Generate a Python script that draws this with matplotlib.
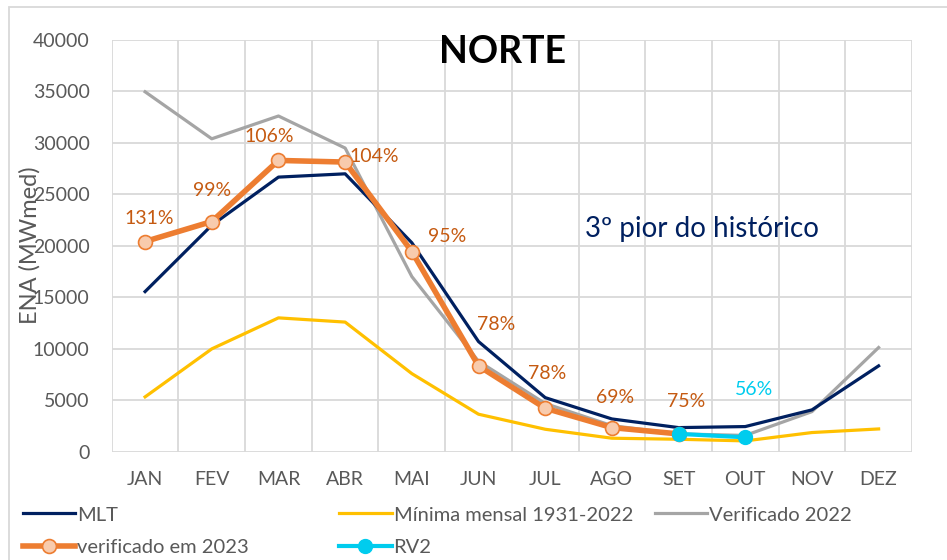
import matplotlib.pyplot as plt
from matplotlib.patches import Rectangle

plt.rcParams["font.family"] = ["Lato", "DejaVu Sans"]

meses = ["JAN", "FEV", "MAR", "ABR", "MAI", "JUN", "JUL", "AGO", "SET", "OUT", "NOV", "DEZ"]
mlt = [15560, 22000, 26670, 26990, 20300, 10710, 5270, 3200, 2360, 2460, 4080, 8350]
minima = [5340, 10000, 13010, 12600, 7600, 3660, 2200, 1330, 1230, 1070, 1880, 2230]
verif_2022 = [34950, 30390, 32600, 29490, 17020, 8800, 4700, 2550, 1750, 1600, 3910, 10130]
verif_2023 = [20420, 22360, 28290, 28130, 19450, 8350, 4240, 2360, 1750]
rv2_meses = ["SET", "OUT"]
rv2 = [1750, 1420]
pct_2023 = ["131%", "99%", "106%", "104%", "95%", "78%", "78%", "69%", "75%"]
pct_rv2 = "56%"

# deslocamento dos rótulos (pixels)
offs = [(4, 23), (0, 31), (-9, 24), (29, 6), (35, 15), (18, 41), (2, 35), (3, 30), (8, 32)]

fig = plt.figure(figsize=(9.47, 5.6), dpi=100)
# borda da área do gráfico
fig.patches.append(Rectangle((9 / 947, -0.1), 1.2, 1.1 - 7 / 560, transform=fig.transFigure,
                             fill=False, edgecolor="#D9D9D9", linewidth=1.3))
ax = fig.add_axes([0.118, 0.193, 0.845, 0.736])

x = list(range(12))
x_rv2 = [meses.index(m) for m in rv2_meses]
l_mlt, = ax.plot(x, mlt, color="#002060", linewidth=2.3, zorder=3)
l_min, = ax.plot(x, minima, color="#FFC000", linewidth=2.3, zorder=2)
l_22, = ax.plot(x, verif_2022, color="#A5A5A5", linewidth=2.3, zorder=2)
l_23, = ax.plot(x[:len(verif_2023)], verif_2023, color="#ED7D31", linewidth=4, marker="o",
                markersize=10, markerfacecolor="#F8CBAD", markeredgecolor="#ED7D31",
                markeredgewidth=1.2, zorder=4)
l_rv2, = ax.plot(x_rv2, rv2, color="#00CCEE", linewidth=3, marker="o", markersize=10,
                 markerfacecolor="#00CCEE", markeredgecolor="#00CCEE", zorder=5)

for i, txt in enumerate(pct_2023):
    ax.annotate(txt, (x[i], verif_2023[i]), xytext=offs[i], textcoords="offset pixels",
                ha="center", va="center", color="#C55A11", fontsize=14)
ax.annotate(pct_rv2, (x_rv2[-1], rv2[-1]), xytext=(9, 48), textcoords="offset pixels",
            ha="center", va="center", color="#00CCEE", fontsize=14)

ax.set_xlim(-0.5, 11.5)
ax.set_ylim(0, 40000)
ax.set_yticks(range(0, 40001, 5000))
ax.set_xticks(x)
ax.set_xticklabels(meses)
for v in range(0, 40001, 5000):
    ax.axhline(v, color="#D9D9D9", linewidth=1.3, zorder=0)
for b in range(13):
    ax.axvline(b - 0.5, color="#D9D9D9", linewidth=1.3, zorder=0)
for s in ax.spines.values():
    s.set_visible(False)
ax.tick_params(length=0, labelsize=14, colors="#595959")
ax.tick_params(axis="x", pad=14)
ax.tick_params(axis="y", pad=16)

ax.text(5.365, 38850, "NORTE", ha="center", va="center",
        fontsize=27, fontweight="bold", color="black")
ax.text(8.35, 21650, "3º pior do histórico", ha="center", va="center",
        fontsize=20, color="#002060")
fig.text(0.032, 0.5625, "ENA (MWmed)", rotation=90, ha="center", va="center",
         fontsize=17, color="#595959")

leg_kw = dict(frameon=False, fontsize=14.5, handlelength=2.6, handletextpad=0.1,
              labelspacing=0.75, labelcolor="#595959")
fig.legend([l_mlt, l_23], ["MLT", "verificado em 2023"], loc="upper left",
           bbox_to_anchor=(0.005, 0.128), **leg_kw)
fig.legend([l_min, l_rv2], ["Mínima mensal 1931-2022", "RV2"], loc="upper left",
           bbox_to_anchor=(0.339, 0.128), **leg_kw)
fig.legend([l_22], ["Verificado 2022"], loc="upper left",
           bbox_to_anchor=(0.672, 0.128), **leg_kw)

fig.savefig("out.png", dpi=100)
